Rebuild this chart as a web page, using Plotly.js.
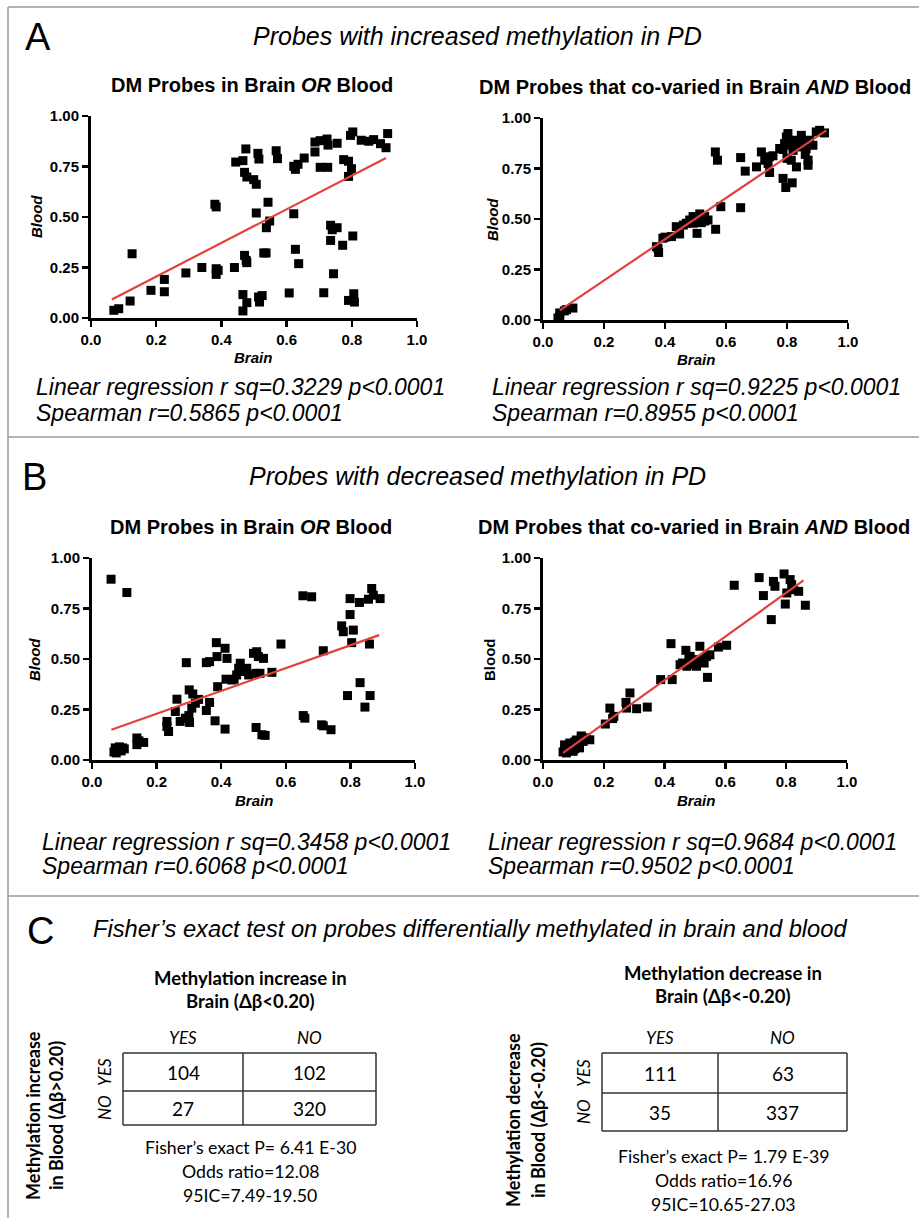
<!DOCTYPE html>
<html>
<head>
<meta charset="utf-8">
<script src="https://cdn.plot.ly/plotly-3.0.1.min.js"></script>
<style>html,body{margin:0;padding:0;background:#fff;}#chart{width:919px;height:1224px;}</style>
</head>
<body>
<div id="chart"></div>
<script>
// ---------------- DATA ----------------
// Panel A, left: DM probes in Brain OR Blood (increased methylation)
const incOrBrain = [0.07,0.085,0.12,0.126,0.184,0.225,0.225,0.291,0.34,0.38,0.384,0.384,0.384,0.39,0.44,0.444,0.466,0.475,0.471,0.478,0.499,0.507,0.471,0.476,0.478,0.466,0.478,0.466,0.512,0.515,0.507,0.514,0.517,0.525,0.53,0.537,0.543,0.548,0.538,0.568,0.572,0.608,0.622,0.627,0.637,0.622,0.627,0.635,0.654,0.687,0.687,0.703,0.703,0.726,0.724,0.727,0.755,0.714,0.735,0.74,0.755,0.735,0.744,0.772,0.803,0.775,0.79,0.799,0.79,0.796,0.803,0.79,0.806,0.808,0.829,0.852,0.867,0.888,0.905,0.91];
const incOrBlood = [0.038,0.046,0.084,0.318,0.137,0.191,0.13,0.223,0.25,0.563,0.55,0.244,0.216,0.236,0.25,0.772,0.779,0.837,0.721,0.698,0.685,0.662,0.31,0.285,0.274,0.116,0.076,0.035,0.815,0.787,0.52,0.104,0.079,0.111,0.322,0.322,0.573,0.48,0.447,0.828,0.789,0.124,0.516,0.34,0.269,0.751,0.736,0.761,0.792,0.822,0.871,0.878,0.746,0.746,0.886,0.856,0.865,0.125,0.459,0.437,0.447,0.384,0.219,0.36,0.406,0.784,0.776,0.739,0.701,0.904,0.921,0.087,0.12,0.079,0.88,0.875,0.883,0.863,0.843,0.913];
const incOrFitX = [0.064, 0.905];
const incOrFitY = [0.092, 0.792];

// Panel A, right: co-varied in Brain AND Blood (increased methylation)
const incAndBrain = [0.049,0.055,0.055,0.077,0.098,0.07,0.372,0.377,0.379,0.393,0.421,0.437,0.448,0.47,0.481,0.492,0.492,0.505,0.508,0.514,0.519,0.53,0.541,0.566,0.565,0.572,0.583,0.648,0.648,0.663,0.7,0.716,0.727,0.738,0.743,0.754,0.743,0.776,0.787,0.787,0.796,0.817,0.792,0.798,0.803,0.809,0.814,0.82,0.82,0.831,0.836,0.847,0.852,0.863,0.869,0.869,0.874,0.885,0.896,0.907,0.923,0.4,0.46,0.53,0.51,0.86,0.84,0.8];
const incAndBlood = [0.01,0.018,0.035,0.051,0.059,0.045,0.363,0.355,0.334,0.405,0.413,0.462,0.426,0.479,0.495,0.512,0.479,0.429,0.503,0.525,0.482,0.512,0.495,0.449,0.832,0.791,0.561,0.556,0.804,0.737,0.758,0.832,0.791,0.775,0.808,0.813,0.73,0.849,0.844,0.701,0.656,0.679,0.873,0.906,0.923,0.865,0.791,0.84,0.89,0.758,0.857,0.914,0.873,0.849,0.791,0.766,0.89,0.865,0.931,0.939,0.926,0.41,0.47,0.49,0.5,0.82,0.88,0.8];
const incAndFitX = [0.055, 0.929];
const incAndFitY = [0.048, 0.939];

// Panel B, left: DM probes in Brain OR Blood (decreased methylation)
const decOrBrain = [0.059,0.108,0.068,0.072,0.08,0.085,0.09,0.095,0.1,0.075,0.139,0.139,0.16,0.145,0.232,0.237,0.232,0.263,0.258,0.273,0.289,0.292,0.301,0.312,0.302,0.309,0.32,0.354,0.364,0.354,0.364,0.381,0.385,0.387,0.389,0.412,0.418,0.412,0.415,0.433,0.448,0.454,0.459,0.469,0.479,0.485,0.5,0.51,0.515,0.531,0.508,0.52,0.508,0.526,0.536,0.557,0.585,0.653,0.68,0.654,0.659,0.711,0.716,0.716,0.74,0.773,0.778,0.791,0.799,0.799,0.804,0.809,0.828,0.83,0.845,0.856,0.859,0.861,0.866,0.871,0.892,0.3,0.33,0.44];
const decOrBlood = [0.895,0.829,0.04,0.06,0.05,0.065,0.045,0.06,0.055,0.035,0.109,0.076,0.087,0.095,0.191,0.141,0.166,0.301,0.24,0.191,0.207,0.482,0.347,0.327,0.186,0.257,0.281,0.482,0.487,0.245,0.285,0.194,0.581,0.512,0.363,0.553,0.503,0.153,0.4,0.396,0.421,0.454,0.479,0.438,0.454,0.421,0.528,0.536,0.512,0.503,0.429,0.429,0.161,0.125,0.122,0.434,0.574,0.813,0.808,0.22,0.207,0.174,0.169,0.541,0.15,0.664,0.635,0.319,0.72,0.799,0.581,0.643,0.78,0.383,0.262,0.796,0.574,0.319,0.849,0.816,0.799,0.22,0.3,0.4];
const decOrFitX = [0.06, 0.889];
const decOrFitY = [0.15, 0.618];

// Panel B, right: co-varied in Brain AND Blood (decreased methylation)
const decAndBrain = [0.066,0.071,0.082,0.093,0.104,0.115,0.12,0.126,0.132,0.143,0.077,0.099,0.088,0.126,0.11,0.138,0.154,0.072,0.095,0.105,0.205,0.22,0.229,0.233,0.273,0.286,0.275,0.308,0.343,0.387,0.425,0.421,0.459,0.47,0.484,0.495,0.505,0.516,0.522,0.538,0.549,0.541,0.577,0.604,0.629,0.711,0.725,0.751,0.758,0.763,0.793,0.797,0.813,0.824,0.841,0.863,0.802,0.818,0.473,0.489,0.451,0.511,0.48,0.53];
const decAndBlood = [0.04,0.075,0.05,0.068,0.055,0.076,0.06,0.114,0.092,0.104,0.035,0.043,0.084,0.119,0.099,0.11,0.1,0.055,0.08,0.09,0.178,0.257,0.205,0.216,0.285,0.332,0.257,0.254,0.262,0.398,0.398,0.576,0.48,0.543,0.513,0.497,0.464,0.563,0.497,0.513,0.521,0.409,0.559,0.568,0.865,0.903,0.814,0.695,0.884,0.86,0.921,0.772,0.893,0.843,0.835,0.766,0.827,0.868,0.464,0.472,0.472,0.488,0.5,0.48];
const decAndFitX = [0.066, 0.857];
const decAndFitY = [0.035, 0.889];

// Axis ticks
const xTicks = [0, 0.2, 0.4, 0.6, 0.8, 1.0];
const yTicks = [0, 0.25, 0.5, 0.75, 1.0];

// Stats text
const statsIncOr  = ["Linear regression r sq=0.3229 p<0.0001", "Spearman r=0.5865 p<0.0001"];
const statsIncAnd = ["Linear regression r sq=0.9225 p<0.0001", "Spearman r=0.8955 p<0.0001"];
const statsDecOr  = ["Linear regression r sq=0.3458 p<0.0001", "Spearman r=0.6068 p<0.0001"];
const statsDecAnd = ["Linear regression r sq=0.9684 p<0.0001", "Spearman r=0.9502 p<0.0001"];

// Panel C contingency tables
const colLabels = ["YES", "NO"];
const rowLabels = ["YES", "NO"];
const incTable = [[104, 102], [27, 320]];
const decTable = [[111, 63], [35, 337]];
const incStats = ["Fisher’s exact P= 6.41 E-30", "Odds ratio=12.08", "95IC=7.49-19.50"];
const decStats = ["Fisher’s exact P= 1.79 E-39", "Odds ratio=16.96", "95IC=10.65-27.03"];

// ---------------- LAYOUT HELPERS ----------------
const W = 919, H = 1224;
const px = x => x / W;
const py = y => 1 - y / H;
const SANS = "'Liberation Sans', Arial, Helvetica, sans-serif";
const CAL = "Lato, Carlito, Calibri, sans-serif";
const RED = "#e3403a";

const annotations = [];
function ann(x, y, text, size, o) {
  o = o || {};
  annotations.push({
    xref: "paper", yref: "paper", x: px(x), y: py(y), text: text, showarrow: false,
    xanchor: o.xa || "center", yanchor: o.ya || "middle", textangle: o.angle || 0,
    font: {family: o.family || SANS, size: size, color: "#000"}
  });
}

function axisX(domainPx, anchor) {
  return {
    domain: [px(domainPx[0]), px(domainPx[1])], range: [0, 1], anchor: anchor,
    showline: true, linewidth: 3, linecolor: "#000", ticks: "outside", ticklen: 6, tickwidth: 2.5, tickcolor: "#000",
    tickvals: xTicks, tickformat: ".1f", showgrid: false, zeroline: false, fixedrange: true,
    tickfont: {family: SANS, size: 15, color: "#000", weight: "bold"}
  };
}
function axisY(domainPx, anchor) {
  return {
    domain: [py(domainPx[1]), py(domainPx[0])], range: [0, 1], anchor: anchor,
    showline: true, linewidth: 3, linecolor: "#000", ticks: "outside", ticklen: 6, tickwidth: 2.5, tickcolor: "#000",
    tickvals: yTicks, tickformat: ".2f", showgrid: false, zeroline: false, fixedrange: true,
    tickfont: {family: SANS, size: 15, color: "#000", weight: "bold"}
  };
}

function scatterPair(xs, ys, fx, fy, xa, ya) {
  return [
    {x: xs, y: ys, xaxis: xa, yaxis: ya, type: "scatter", mode: "markers", cliponaxis: false,
     marker: {symbol: "square", size: 9, color: "#000"}, hoverinfo: "skip", showlegend: false},
    {x: fx, y: fy, xaxis: xa, yaxis: ya, type: "scatter", mode: "lines", cliponaxis: false,
     line: {color: RED, width: 2.2}, hoverinfo: "skip", showlegend: false}
  ];
}

const data = [].concat(
  scatterPair(incOrBrain, incOrBlood, incOrFitX, incOrFitY, "x", "y"),
  scatterPair(incAndBrain, incAndBlood, incAndFitX, incAndFitY, "x2", "y2"),
  scatterPair(decOrBrain, decOrBlood, decOrFitX, decOrFitY, "x3", "y3"),
  scatterPair(decAndBrain, decAndBlood, decAndFitX, decAndFitY, "x4", "y4")
);

// ---------------- TEXT ----------------
// Panel A
ann(38, 37, "A", 38);
ann(477, 36, "<i>Probes with increased methylation in PD</i>", 25);
ann(252, 85, "<b>DM Probes in Brain <i>OR</i> Blood</b>", 20);
ann(695, 87, "<b>DM Probes that co-varied in Brain <i>AND</i> Blood</b>", 20);
ann(36, 217, "<b><i>Blood</i></b>", 15, {angle: -90});
ann(492, 219, "<b><i>Blood</i></b>", 15, {angle: -90});
ann(253, 357, "<b><i>Brain</i></b>", 15);
ann(696, 359, "<b><i>Brain</i></b>", 15);
ann(34, 387, "<i>" + statsIncOr[0] + "</i>", 23, {xa: "left"});
ann(34, 413, "<i>" + statsIncOr[1] + "</i>", 23, {xa: "left"});
ann(490, 387, "<i>" + statsIncAnd[0] + "</i>", 23, {xa: "left"});
ann(490, 413, "<i>" + statsIncAnd[1] + "</i>", 23, {xa: "left"});

// Panel B
ann(34, 477, "B", 38);
ann(477, 476, "<i>Probes with decreased methylation in PD</i>", 25);
ann(251, 527, "<b>DM Probes in Brain <i>OR</i> Blood</b>", 20);
ann(694, 527, "<b>DM Probes that co-varied in Brain <i>AND</i> Blood</b>", 20);
ann(34, 660, "<b><i>Blood</i></b>", 15, {angle: -90});
ann(489, 660, "<b>Blood</b>", 15, {angle: -90});
ann(254, 800, "<b><i>Brain</i></b>", 15);
ann(696, 800, "<b><i>Brain</i></b>", 15);
ann(40, 842, "<i>" + statsDecOr[0] + "</i>", 23, {xa: "left"});
ann(40, 866, "<i>" + statsDecOr[1] + "</i>", 23, {xa: "left"});
ann(486, 842, "<i>" + statsDecAnd[0] + "</i>", 23, {xa: "left"});
ann(486, 866, "<i>" + statsDecAnd[1] + "</i>", 23, {xa: "left"});

// Panel C
ann(40, 931, "C", 38);
ann(91, 929, "<i>Fisher’s exact test on probes differentially methylated in brain and blood</i>", 23.7, {xa: "left"});

const shapes = [];
function line(x0, y0, x1, y1, color, width) {
  shapes.push({type: "line", xref: "paper", yref: "paper", x0: px(x0), y0: py(y0), x1: px(x1), y1: py(y1),
               line: {color: color, width: width}});
}
// frame lines
line(8, 7, 919, 7, "#9a9a9a", 1.5);
line(8, 7, 8, 1218, "#9a9a9a", 1.5);
line(8, 437, 919, 437, "#9a9a9a", 1.5);
line(8, 896, 919, 896, "#9a9a9a", 1.5);

function table(t, g) {
  ann(g.cx, g.t1, "<b>" + g.title[0] + "</b>", 18.5, {family: CAL});
  ann(g.cx, g.t1 + 23, "<b>" + g.title[1] + "</b>", 18.5, {family: CAL});
  ann(g.ylx1, g.yly, "<b>" + g.ylab[0] + "</b>", 18, {family: CAL, angle: -90});
  ann(g.ylx2, g.yly, "<b>" + g.ylab[1] + "</b>", 18, {family: CAL, angle: -90});
  const colC = [(g.x0 + g.xm) / 2, (g.xm + g.x1) / 2];
  const rowC = [(g.y0 + g.ym) / 2, (g.ym + g.y1) / 2];
  colLabels.forEach((c, i) => ann(colC[i], g.y0 - 16, "<i>" + c + "</i>", 17, {family: CAL}));
  rowLabels.forEach((r, i) => ann(g.x0 - 19, rowC[i], "<i>" + r + "</i>", 17, {family: CAL, angle: -90}));
  for (let r = 0; r < 2; r++) for (let c = 0; c < 2; c++)
    ann(colC[c], rowC[r], String(t[r][c]), 19, {family: CAL});
  const col = "#333", w = 1.5;
  line(g.x0, g.y0, g.x1, g.y0, col, w); line(g.x0, g.y1, g.x1, g.y1, col, w);
  line(g.x0, g.ym, g.x1, g.ym, col, w);
  line(g.x0, g.y0, g.x0, g.y1, col, w); line(g.x1, g.y0, g.x1, g.y1, col, w);
  line(g.xm, g.y0, g.xm, g.y1, col, w);
  g.stats.forEach((s, i) => ann(g.cx, g.s0 + i * 24, s, 17.7, {family: CAL}));
}
table(incTable, {cx: 250, t1: 978, title: ["Methylation increase in", "Brain (Δβ<0.20)"],
  ylab: ["Methylation increase", "in Blood (Δβ>0.20)"], ylx1: 33, ylx2: 56, yly: 1116,
  x0: 123, xm: 243, x1: 376, y0: 1053, ym: 1091, y1: 1125, stats: incStats, s0: 1147});
table(decTable, {cx: 723, t1: 973, title: ["Methylation decrease in", "Brain (Δβ<-0.20)"],
  ylab: ["Methylation decrease", "in Blood (Δβ<-0.20)"], ylx1: 513, ylx2: 538, yly: 1120,
  x0: 602, xm: 718, x1: 847, y0: 1053, ym: 1093, y1: 1131, stats: decStats, s0: 1156});

const layout = {
  width: W, height: H, margin: {l: 0, r: 0, t: 0, b: 0},
  paper_bgcolor: "#fff", plot_bgcolor: "rgba(0,0,0,0)", showlegend: false,
  xaxis: axisX([91, 417], "y"),   yaxis: axisY([116, 318], "x"),
  xaxis2: axisX([543, 848], "y2"), yaxis2: axisY([118, 320], "x2"),
  xaxis3: axisX([92, 415], "y3"), yaxis3: axisY([558, 760], "x3"),
  xaxis4: axisX([543, 847], "y4"), yaxis4: axisY([558, 760], "x4"),
  annotations: annotations, shapes: shapes
};

Plotly.newPlot("chart", data, layout, {displayModeBar: false, staticPlot: true});
</script>
</body>
</html>
